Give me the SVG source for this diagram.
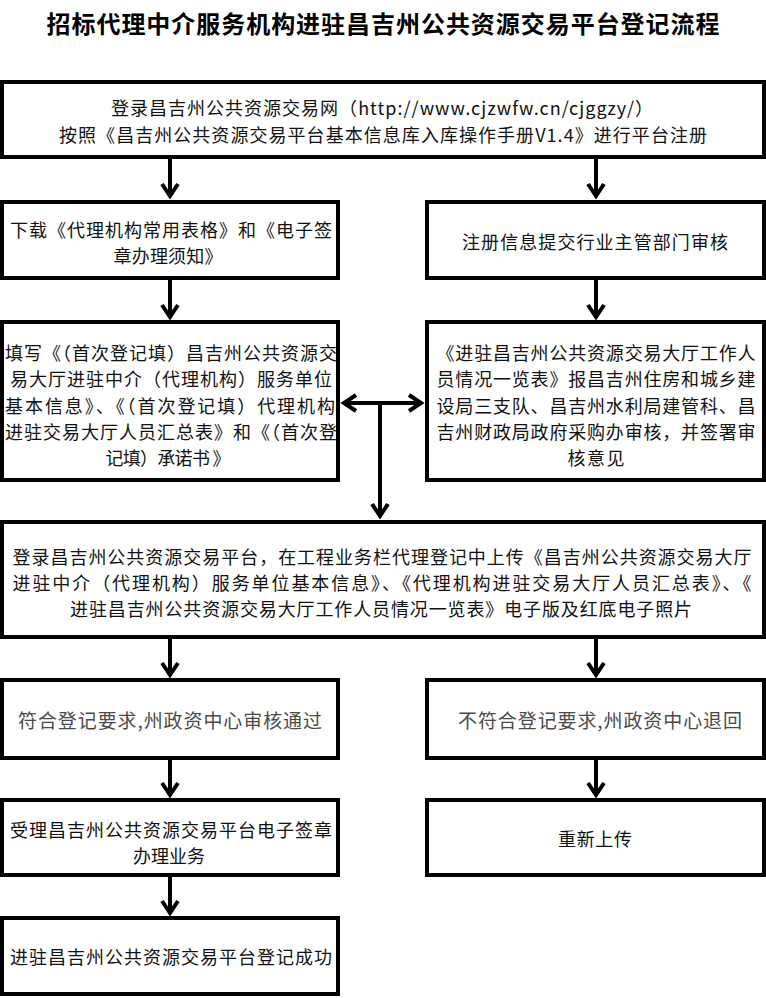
<svg xmlns="http://www.w3.org/2000/svg" width="766" height="998" viewBox="0 0 766 998">
<style>
text{font-family:"Noto Sans CJK SC","Liberation Serif",sans-serif;font-size:18px;fill:#111;dominant-baseline:central;text-anchor:middle}
.title{font-size:24px;font-weight:700;fill:#000}
.gray{fill:#4a4a4a;font-size:19px}
rect{fill:#fff;stroke:#000;stroke-width:4}
.c path{fill:none;stroke:#000;stroke-width:4}
</style>
<defs>
<marker id="ah" markerUnits="userSpaceOnUse" markerWidth="30" markerHeight="30" viewBox="-20 -15 30 30" refX="0" refY="0" orient="auto-start-reverse">
<path d="M-13,-8 L-1,0 L-13,8" fill="none" stroke="#000" stroke-width="4"/>
</marker>
</defs>
<text class="title" x="383" y="22" textLength="673">招标代理中介服务机构进驻昌吉州公共资源交易平台登记流程</text>

<g class="c">
<path d="M170,159 V197" marker-end="url(#ah)"/>
<path d="M596,159 V197" marker-end="url(#ah)"/>
<path d="M170,280 V318" marker-end="url(#ah)"/>
<path d="M596,280 V318" marker-end="url(#ah)"/>
<path d="M343,403 H422" marker-start="url(#ah)" marker-end="url(#ah)"/>
<path d="M380,403 V517" marker-end="url(#ah)"/>
<path d="M170,639 V676" marker-end="url(#ah)"/>
<path d="M596,639 V676" marker-end="url(#ah)"/>
<path d="M170,760 V796" marker-end="url(#ah)"/>
<path d="M596,760 V796" marker-end="url(#ah)"/>
<path d="M170,877 V914" marker-end="url(#ah)"/>
</g>

<g id="n1">
<rect x="2" y="82" width="762" height="75"/>
<text x="382" y="107" textLength="542">登录昌吉州公共资源交易网（http://www.cjzwfw.cn/cjggzy/）</text>
<text x="383" y="134" textLength="648">按照《昌吉州公共资源交易平台基本信息库入库操作手册V1.4》进行平台注册</text>
</g>
<g id="n2">
<rect x="2" y="202" width="336" height="76"/>
<text x="171" y="229" textLength="322">下载《代理机构常用表格》和《电子签</text>
<text x="168" y="255" textLength="109">章办理须知》</text>
</g>
<g id="n3">
<rect x="427" y="202" width="337" height="76"/>
<text x="595" y="241" textLength="266">注册信息提交行业主管部门审核</text>
</g>
<g id="n4">
<rect x="2" y="322" width="336" height="158"/>
<text x="171" y="352" textLength="332">填写《（首次登记填）昌吉州公共资源交</text>
<text x="171" y="378" textLength="322">易大厅进驻中介（代理机构）服务单位</text>
<text x="170" y="405" textLength="330">基本信息》、《（首次登记填）代理机构</text>
<text x="171" y="431" textLength="332">进驻交易大厅人员汇总表》和《（首次登</text>
<text x="168" y="457" textLength="125" xml:space="preserve">记填）承诺书 》</text>
</g>
<g id="n5">
<rect x="427" y="322" width="337" height="158"/>
<text x="596" y="352" textLength="319">《进驻昌吉州公共资源交易大厅工作人</text>
<text x="596" y="378" textLength="319">员情况一览表》报昌吉州住房和城乡建</text>
<text x="596" y="405" textLength="319">设局三支队、昌吉州水利局建管科、昌</text>
<text x="596" y="431" textLength="319">吉州财政局政府采购办审核，并签署审</text>
<text x="596" y="457" textLength="57">核意见</text>
</g>
<g id="n6">
<rect x="2" y="522" width="762" height="115"/>
<text x="382" y="556" textLength="739">登录昌吉州公共资源交易平台，在工程业务栏代理登记中上传《昌吉州公共资源交易大厅</text>
<text x="382" y="582" textLength="739">进驻中介（代理机构）服务单位基本信息》、《代理机构进驻交易大厅人员汇总表》、《</text>
<text x="381" y="608" textLength="622">进驻昌吉州公共资源交易大厅工作人员情况一览表》电子版及红底电子照片</text>
</g>
<g id="n7">
<rect x="2" y="680" width="336" height="78"/>
<text class="gray" x="170" y="719" textLength="304">符合登记要求,州政资中心审核通过</text>
</g>
<g id="n8">
<rect x="427" y="680" width="337" height="78"/>
<text class="gray" x="600" y="719" textLength="284">不符合登记要求,州政资中心退回</text>
</g>
<g id="n9">
<rect x="2" y="800" width="336" height="75"/>
<text x="171" y="829" textLength="322">受理昌吉州公共资源交易平台电子签章</text>
<text x="169" y="855" textLength="72">办理业务</text>
</g>
<g id="n10">
<rect x="427" y="800" width="337" height="75"/>
<text x="595" y="838" textLength="74">重新上传</text>
</g>
<g id="n11">
<rect x="2" y="918" width="336" height="76"/>
<text x="171" y="956" textLength="322">进驻昌吉州公共资源交易平台登记成功</text>
</g>
</svg>
